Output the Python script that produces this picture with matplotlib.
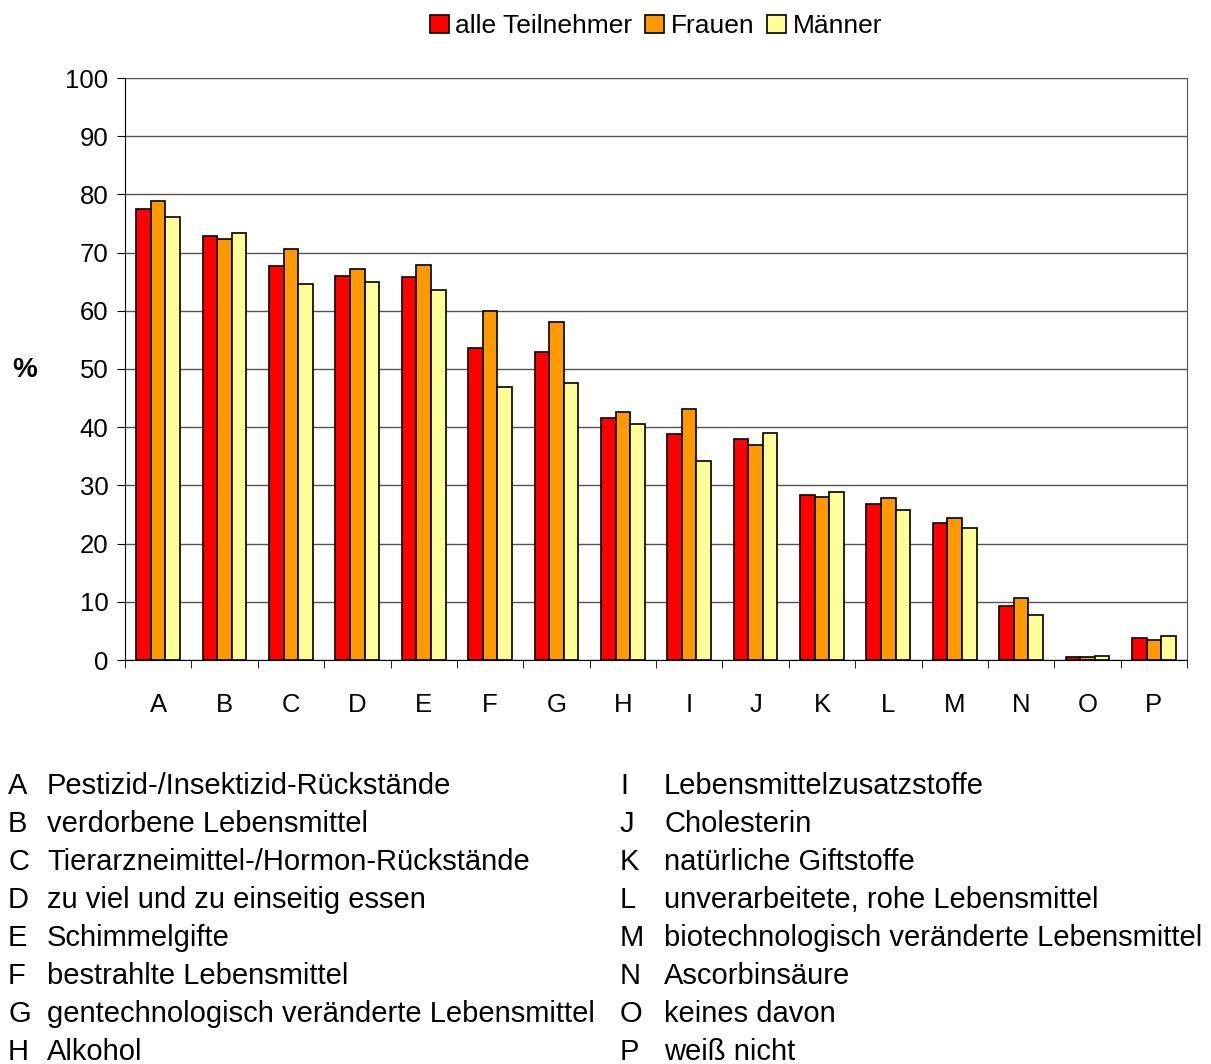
import matplotlib.pyplot as plt
import numpy as np

plt.rcParams['font.family'] = ['Liberation Sans', 'DejaVu Sans']

categories = list("ABCDEFGHIJKLMNOP")
alle = [77.5, 72.9, 67.7, 66.0, 65.8, 53.6, 52.9, 41.6, 38.8, 38.0, 28.4, 26.8, 23.5, 9.3, 0.6, 3.8]
frauen = [78.9, 72.3, 70.6, 67.2, 67.9, 60.0, 58.1, 42.6, 43.1, 36.9, 28.0, 27.8, 24.4, 10.7, 0.5, 3.4]
maenner = [76.1, 73.4, 64.6, 64.9, 63.6, 46.9, 47.6, 40.5, 34.2, 39.0, 28.9, 25.8, 22.7, 7.7, 0.7, 4.1]
series_names = ["alle Teilnehmer", "Frauen", "Männer"]
colors = ["#FF0000", "#FF9900", "#FFFF99"]

descriptions = [
    "Pestizid-/Insektizid-Rückstände",
    "verdorbene Lebensmittel",
    "Tierarzneimittel-/Hormon-Rückstände",
    "zu viel und zu einseitig essen",
    "Schimmelgifte",
    "bestrahlte Lebensmittel",
    "gentechnologisch veränderte Lebensmittel",
    "Alkohol",
    "Lebensmittelzusatzstoffe",
    "Cholesterin",
    "natürliche Giftstoffe",
    "unverarbeitete, rohe Lebensmittel",
    "biotechnologisch veränderte Lebensmittel",
    "Ascorbinsäure",
    "keines davon",
    "weiß nicht",
]

W, H = 1211, 1064
fig = plt.figure(figsize=(W / 100, H / 100), dpi=100)
ax = fig.add_axes([125 / W, 1 - 660 / H, (1187 - 125) / W, (660 - 78) / H])

x = np.arange(len(categories))
bw = 0.22
for k, (vals, name, c) in enumerate(zip([alle, frauen, maenner], series_names, colors)):
    ax.bar(x + (k - 1) * bw, vals, width=bw, color=c, edgecolor="black",
           linewidth=1.2, label=name, zorder=3)

ax.set_xlim(-0.5, len(categories) - 0.5)
ax.set_ylim(0, 100)
ax.set_yticks(range(0, 101, 10))
ax.yaxis.grid(True, color="#555555", linewidth=1, zorder=0)
ax.set_xticks(x)
ax.set_xticklabels(categories, fontsize=18.5)
ax.set_xticks(np.arange(-0.5, len(categories)), minor=True)
ax.tick_params(axis="x", which="major", length=0, pad=24)
ax.tick_params(axis="x", which="minor", length=6, direction="out")
ax.tick_params(axis="y", labelsize=18.5, length=6, direction="out", pad=6)
ax.spines["top"].set_visible(False)
ax.spines["right"].set_color("#555555")

fig.text(25 / W, 1 - 370 / H, "%", fontsize=20, fontweight="bold", ha="center", va="center")

ax.legend(loc="center", bbox_to_anchor=(0.5, 1 + (78 - 26) / (660 - 78)), ncol=3, frameon=False,
          fontsize=19, handlelength=0.7, handleheight=0.7, handletextpad=0.25, columnspacing=0.5,
          bbox_transform=ax.transAxes)

for i, (cat, desc) in enumerate(zip(categories, descriptions)):
    col, row = divmod(i, 8)
    yy = 1 - (786 + row * 38) / H
    xl = 8 if col == 0 else 620
    xt = 47 if col == 0 else 664
    fig.text(xl / W, yy, cat, fontsize=21, va="center", ha="left")
    fig.text(xt / W, yy, desc, fontsize=21, va="center", ha="left")

fig.savefig("out.png", dpi=100)
